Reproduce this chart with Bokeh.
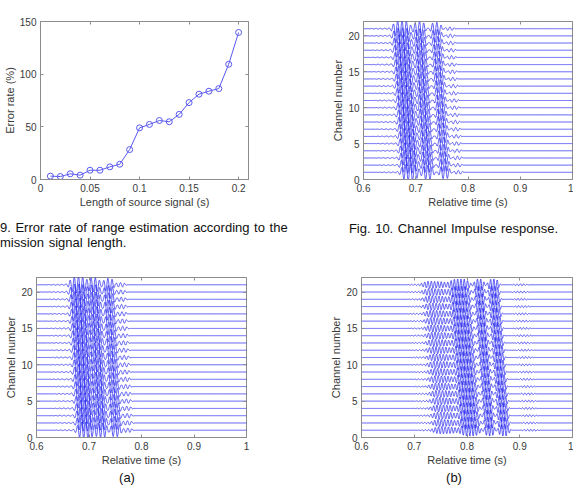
import numpy as np
from bokeh.plotting import figure
from bokeh.layouts import column, row
from bokeh.models import Range1d, FixedTicker, Div, LinearAxis
from bokeh.embed import file_html
from bokeh.resources import INLINE

# ---------------- Fig. 9 data ----------------
signal_length = [0.01, 0.02, 0.03, 0.04, 0.05, 0.06, 0.07, 0.08, 0.09, 0.10,
                 0.11, 0.12, 0.13, 0.14, 0.15, 0.16, 0.17, 0.18, 0.19, 0.20]
error_rate = [3.2, 2.8, 5.4, 4.1, 8.8, 8.8, 12.0, 14.5, 28.4, 49.0,
              52.3, 56.0, 54.8, 61.8, 73.0, 81.0, 83.8, 86.3, 109.4, 139.6]
fig9_xticks = [0, 0.05, 0.1, 0.15, 0.2]
fig9_xlabels = ["0", "0.05", "0.1", "0.15", "0.2"]
fig9_yticks = [0, 50, 100, 150]

# ---------------- channel plots ----------------
channels = list(range(1, 22))
time_ticks = [0.6, 0.7, 0.8, 0.9, 1.0]
time_labels = ["0.6", "0.7", "0.8", "0.9", "1"]
chan_ticks = [0, 5, 10, 15, 20]

# arrival time read at channel 21 (top) and channel 1 (bottom);
# wave-packet offsets from arrival, half-widths and amplitudes
fig10_onset = [0.655, 0.671]
fig10_pk_off = [-0.010, 0.018, 0.052, 0.084, 0.110]
fig10_pk_wid = [0.030, 0.018, 0.012, 0.011, 0.009]
fig10_pk_amp = [0.06, 1.10, 1.00, 0.90, 0.25]
fig10_freq = 120

a_onset = [0.662, 0.676]
a_pk_off = [-0.010, 0.018, 0.048, 0.075, 0.098]
a_pk_wid = [0.030, 0.018, 0.012, 0.011, 0.010]
a_pk_amp = [0.06, 1.10, 1.00, 0.90, 0.30]
a_freq = 125

b_onset = [0.712, 0.732]
b_pk_off = [0.000, 0.028, 0.074, 0.111, 0.138, 0.188]
b_pk_wid = [0.025, 0.025, 0.020, 0.010, 0.011, 0.015]
b_pk_amp = [0.08, 0.45, 0.80, 0.80, 0.80, 0.13]
b_freq = 160

LINE_BLUE = "#2222f0"
AX_COL = "#8c8c8c"
TXT_COL = "#3a3a3a"
FONT = "Liberation Sans"


def traces(onset, offs, wids, amps, freq):
    t = np.arange(0.6, 1.0002, 0.0003)
    xs, ys = [], []
    for c in channels:
        t0 = onset[1] + (onset[0] - onset[1]) * (c - 1) / 20.0
        s = np.zeros_like(t)
        for d, w, a in zip(offs, wids, amps):
            s += a * np.exp(-((t - t0 - d) / w) ** 4) * np.sin(2 * np.pi * freq * (t - t0))
        xs.append(t)
        ys.append(c + s)
    return xs, ys


def style(p, xticks, xlabels, yticks, right_axis):
    p.outline_line_color = AX_COL
    p.xgrid.visible = False
    p.ygrid.visible = False
    p.background_fill_color = "white"
    p.border_fill_color = "white"
    p.xaxis.ticker = FixedTicker(ticks=xticks)
    p.yaxis.ticker = FixedTicker(ticks=yticks)
    p.xaxis.major_label_overrides = {k: v for k, v in zip(xticks, xlabels)}
    for ax in p.xaxis + p.yaxis:
        ax.axis_line_color = AX_COL
        ax.major_tick_line_color = AX_COL
        ax.major_tick_in = 3
        ax.major_tick_out = 0
        ax.minor_tick_line_color = None
        ax.major_label_text_font = FONT
        ax.major_label_text_font_size = "10px"
        ax.major_label_text_color = TXT_COL
        ax.axis_label_text_font = FONT
        ax.axis_label_text_font_size = "11px"
        ax.axis_label_text_font_style = "normal"
        ax.axis_label_text_color = TXT_COL
        ax.major_label_standoff = 4
        ax.axis_label_standoff = 1
    # MATLAB-style box ticks on the top (and right) edges, without labels
    extra = [("above", xticks)]
    if right_axis:
        extra.append(("right", yticks))
    for side, tks in extra:
        ax = LinearAxis(ticker=FixedTicker(ticks=tks),
                        major_label_overrides={k: "" for k in tks},
                        major_label_standoff=0, axis_line_color=None,
                        major_tick_line_color=AX_COL, major_tick_in=3, major_tick_out=0,
                        minor_tick_line_color=None)
        p.add_layout(ax, side)


def chan_fig(width, height, bl, br, bt, bb, xs, ys, right_axis):
    p = figure(width=width, height=height, output_backend="svg", toolbar_location=None,
               x_range=Range1d(0.6, 1.0), y_range=Range1d(0, 22),
               min_border_left=bl, min_border_right=br, min_border_top=bt, min_border_bottom=bb)
    p.multi_line(xs, ys, line_color=LINE_BLUE, line_width=1, line_alpha=0.75)
    style(p, time_ticks, time_labels, chan_ticks, right_axis)
    p.below[0].axis_label = "Relative time (s)"
    p.left[0].axis_label = "Channel number"
    return p


def cap_div(html, width, height, pad_top, pad_left=0, pad_right=0, align="center",
            line_h=16):
    return Div(text=('<div style="width:%dpx;box-sizing:border-box;padding-top:%dpx;'
                     'padding-left:%dpx;padding-right:%dpx;text-align:%s;white-space:nowrap;'
                     'font-family:\'Liberation Sans\';font-size:13px;line-height:%dpx;'
                     'word-spacing:1px;color:#111111">%s</div>')
               % (width, pad_top, pad_left, pad_right, align, line_h, html),
               width=width, height=height, styles={"overflow": "hidden", "margin": "0"})


# ---------- Fig 9 ----------
p1 = figure(width=290, height=212, output_backend="svg", toolbar_location=None,
            x_range=Range1d(0, 0.21), y_range=Range1d(0, 150),
            min_border_left=37, min_border_right=42, min_border_top=21, min_border_bottom=33)
p1.line(signal_length, error_rate, line_color="#5a5af0", line_width=1)
p1.scatter(signal_length, error_rate, marker="circle", size=6, fill_color=None,
           line_color="#5a5af0", line_width=1)
style(p1, fig9_xticks, fig9_xlabels, fig9_yticks, True)
p1.below[0].axis_label = "Length of source signal (s)"
p1.left[0].axis_label = "Error rate (%)"

# ---------- Fig 10 ----------
xs10, ys10 = traces(fig10_onset, fig10_pk_off, fig10_pk_wid, fig10_pk_amp, fig10_freq)
p2 = chan_fig(283, 212, 73, 1, 21, 33, xs10, ys10, False)

# ---------- (a), (b) ----------
xsa, ysa = traces(a_onset, a_pk_off, a_pk_wid, a_pk_amp, a_freq)
p3 = chan_fig(290, 220, 36, 44, 27, 33, xsa, ysa, True)

xsb, ysb = traces(b_onset, b_pk_off, b_pk_wid, b_pk_amp, b_freq)
p4 = chan_fig(283, 220, 71, 1, 27, 33, xsb, ysb, False)

cap9 = cap_div("9. Error rate of range estimation according to the<br>mission signal length.",
               290, 38, 8, 0, 0, "left", 15)
cap10 = cap_div("Fig. 10. Channel Impulse response.", 283, 38, 9, 44, 0, "center")
capa = cap_div("(a)", 290, 22, 0, 0, 36, "center")
capb = cap_div("(b)", 283, 22, 0, 45, 0, "center")

layout = column(row(p1, p2), row(cap9, cap10), row(p3, p4), row(capa, capb))
open("out.html", "w").write(file_html(layout, INLINE))
